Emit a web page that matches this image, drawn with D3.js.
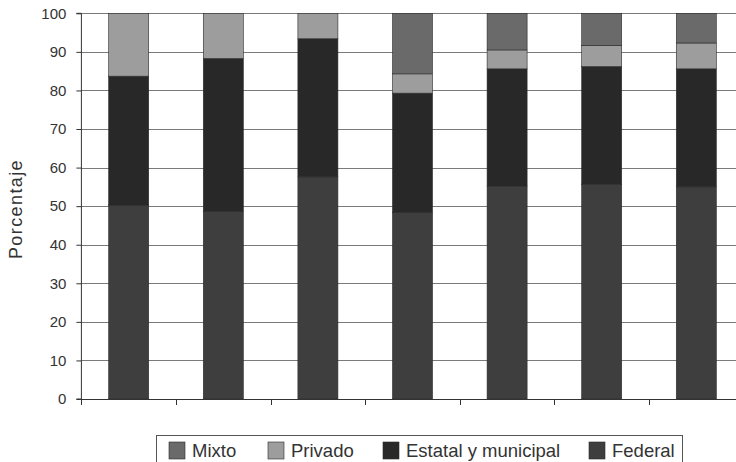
<!DOCTYPE html>
<html>
<head>
<meta charset="utf-8">
<script src="https://cdn.jsdelivr.net/npm/d3@7/dist/d3.min.js"></script>
<style>
  html, body { margin: 0; padding: 0; background: #fff; }
  svg { display: block; }
  text { font-family: "Liberation Sans", Arial, sans-serif; fill: #333; }
</style>
</head>
<body>
<svg id="chart" width="736" height="462"></svg>
<script>
// ---- data ----
const categories = ["1", "2", "3", "4", "5", "6", "7"];
const federal = [50.3, 48.6, 57.6, 48.4, 55.2, 55.7, 55.0];
const estatal = [33.4, 39.7, 35.8, 30.9, 30.4, 30.5, 30.6];
const privado = [16.3, 11.7, 6.6, 5.0, 4.9, 5.5, 6.7];
const mixto   = [0, 0, 0, 15.7, 9.5, 8.3, 7.7];
const seriesNames = ["Federal", "Estatal y municipal", "Privado", "Mixto"];
const legendOrder = ["Mixto", "Privado", "Estatal y municipal", "Federal"];
const yTicks = [0, 10, 20, 30, 40, 50, 60, 70, 80, 90, 100];
const yLabel = "Porcentaje";

const colors = {
  "Federal": "#3e3e3e",
  "Estatal y municipal": "#282828",
  "Privado": "#9d9d9d",
  "Mixto": "#6a6a6a"
};

const rows = categories.map((c, i) => ({
  cat: c,
  "Federal": federal[i],
  "Estatal y municipal": estatal[i],
  "Privado": privado[i],
  "Mixto": mixto[i]
}));

const svg = d3.select("#chart");
const mLeft = 81.4, mRight = 743.6, mTop = 13.3, mBottom = 399;

const x = d3.scaleBand().domain(categories).range([mLeft, mRight])
  .paddingInner(0.577).paddingOuter(0.2885);
const y = d3.scaleLinear().domain([0, 100]).range([mBottom, mTop]);

// gridlines
svg.append("g").selectAll("line").data(yTicks.filter(d => d > 0)).join("line")
  .attr("x1", mLeft).attr("x2", 736)
  .attr("y1", d => Math.round(y(d)) + 0.5).attr("y2", d => Math.round(y(d)) + 0.5)
  .attr("stroke", "#7a7a7a").attr("stroke-width", 1);

// stacked bars
const stack = d3.stack().keys(seriesNames)(rows);
svg.append("g").selectAll("g").data(stack).join("g")
  .attr("fill", d => colors[d.key])
  .selectAll("rect").data(d => d.filter(p => p[1] - p[0] > 0)).join("rect")
  .attr("x", d => x(d.data.cat))
  .attr("width", x.bandwidth())
  .attr("y", d => y(d[1]))
  .attr("height", d => y(d[0]) - y(d[1]))
  .attr("stroke", "#2a2a2a").attr("stroke-width", 0.6);

// y axis
const yAxis = d3.axisLeft(y).tickValues(yTicks).tickSize(5).tickPadding(10);
const gy = svg.append("g").attr("transform", `translate(${mLeft},0)`).call(yAxis);
gy.select(".domain").attr("stroke", "#333").attr("d", `M-5,${mTop}H0V${mBottom}H-5`);
gy.selectAll(".tick line").attr("stroke", "#333");
gy.selectAll(".tick text").style("font-size", "15px").attr("fill", "#333")
  .style("font-family", '"Liberation Sans", Arial, sans-serif');

// x axis (ticks at band boundaries, no labels)
const boundaries = categories.map(c => x(c) - x.step() * x.paddingInner() / 2);
const gx = svg.append("g");
gx.append("line").attr("x1", mLeft).attr("x2", 736)
  .attr("y1", mBottom + 0.5).attr("y2", mBottom + 0.5).attr("stroke", "#333");
gx.selectAll("line.t").data(boundaries).join("line").attr("class", "t")
  .attr("x1", d => Math.round(d) + 0.5).attr("x2", d => Math.round(d) + 0.5)
  .attr("y1", mBottom).attr("y2", mBottom + 6).attr("stroke", "#333");

// y label
svg.append("text")
  .attr("transform", "translate(22,209) rotate(-90)")
  .attr("text-anchor", "middle")
  .style("font-size", "18px").style("letter-spacing", "1.4px")
  .text(yLabel);

// legend
const lg = svg.append("g");
lg.append("rect").attr("x", 156.5).attr("y", 435.5).attr("width", 526).attr("height", 40)
  .attr("fill", "#fff").attr("stroke", "#555").attr("stroke-width", 1);
const itemX = [169, 268, 383, 589];
legendOrder.forEach((name, i) => {
  lg.append("rect").attr("x", itemX[i]).attr("y", 442).attr("width", 16).attr("height", 17)
    .attr("fill", colors[name]).attr("stroke", "#2a2a2a").attr("stroke-width", 0.6);
  lg.append("text").attr("x", itemX[i] + 23).attr("y", 457)
    .style("font-size", "18.5px").text(name);
});
</script>
</body>
</html>
